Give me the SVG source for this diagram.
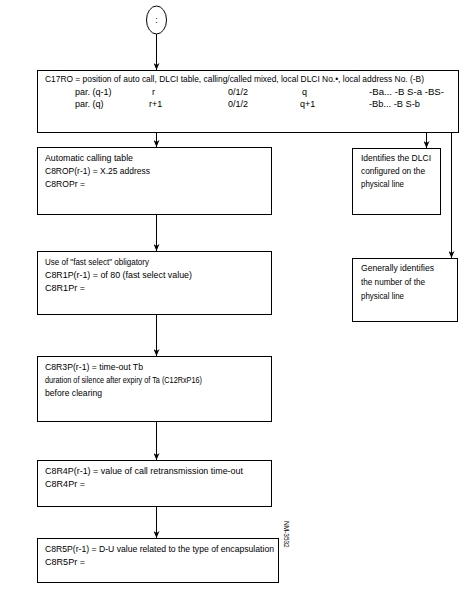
<svg xmlns="http://www.w3.org/2000/svg" width="468" height="616" viewBox="0 0 468 616">
<style>
.b{fill:#fff;stroke:#000;stroke-width:1}
.t{font-family:"Liberation Sans",Arial,sans-serif;font-size:9px;fill:#000}
.c{fill:none;stroke:#000;stroke-width:1}
.n{font-family:"Liberation Sans",Arial,sans-serif;font-size:6.5px;fill:#000}
</style>
<defs>
<marker id="ar" markerWidth="7" markerHeight="6" refX="7" refY="3" orient="auto" markerUnits="userSpaceOnUse" viewBox="0 0 7 6">
<path d="M0,0 L7,3 L0,6 L2,3 Z" fill="#000"/>
</marker>
</defs>
<rect width="468" height="616" fill="#fff"/>
<g id="connectors">
<path class="c" d="M156.5,34 V70" marker-end="url(#ar)"/>
<path class="c" d="M156.5,132 V147" marker-end="url(#ar)"/>
<path class="c" d="M156.5,215 V251" marker-end="url(#ar)"/>
<path class="c" d="M156.5,315 V356" marker-end="url(#ar)"/>
<path class="c" d="M156.5,422 V460" marker-end="url(#ar)"/>
<path class="c" d="M156.5,507 V538" marker-end="url(#ar)"/>
<path class="c" d="M421,101.5 H426.5 V148" marker-end="url(#ar)"/>
<path class="c" d="M446,89.5 H451.5 V258" marker-end="url(#ar)"/>
</g>
<g id="start">
<ellipse class="b" cx="156.5" cy="20" rx="10" ry="14"/>
<text class="t" x="156.5" y="23" text-anchor="middle">:</text>
</g>
<g id="box1">
<rect class="b" x="37.5" y="70.5" width="421" height="62"/>
<text class="t" x="45" y="82" textLength="379" lengthAdjust="spacingAndGlyphs">C17RO = position of auto call, DLCI table, calling/called mixed, local DLCI No.•, local address No. (-B)</text>
<text class="t" x="75" y="95">par. (q-1)</text>
<text class="t" x="152" y="95">r</text>
<text class="t" x="228" y="95">0/1/2</text>
<text class="t" x="302" y="95">q</text>
<text class="t" x="369" y="95" textLength="75" lengthAdjust="spacingAndGlyphs">-Ba... -B S-a -BS-</text>
<text class="t" x="75" y="107">par. (q)</text>
<text class="t" x="149" y="107">r+1</text>
<text class="t" x="228" y="107">0/1/2</text>
<text class="t" x="300" y="107">q+1</text>
<text class="t" x="369" y="107" textLength="51" lengthAdjust="spacingAndGlyphs">-Bb... -B S-b</text>
</g>
<g id="box2">
<rect class="b" x="37.5" y="147.5" width="234" height="67"/>
<text class="t" x="45" y="161" textLength="88" lengthAdjust="spacingAndGlyphs">Automatic calling table</text>
<text class="t" x="45" y="174" textLength="105" lengthAdjust="spacingAndGlyphs">C8ROP(r-1) = X.25 address</text>
<text class="t" x="45" y="187" textLength="40" lengthAdjust="spacingAndGlyphs">C8ROPr =</text>
</g>
<g id="box3">
<rect class="b" x="37.5" y="251.5" width="234" height="63"/>
<text class="t" x="45" y="265" textLength="104" lengthAdjust="spacingAndGlyphs">Use of "fast select" obligatory</text>
<text class="t" x="45" y="278" textLength="147" lengthAdjust="spacingAndGlyphs">C8R1P(r-1) = of 80 (fast select value)</text>
<text class="t" x="45" y="291" textLength="40" lengthAdjust="spacingAndGlyphs">C8R1Pr =</text>
</g>
<g id="box4">
<rect class="b" x="37.5" y="356.5" width="234" height="65"/>
<text class="t" x="45" y="370" textLength="98" lengthAdjust="spacingAndGlyphs">C8R3P(r-1) = time-out Tb</text>
<text class="t" x="45" y="383" textLength="157" lengthAdjust="spacingAndGlyphs">duration of silence after expiry of Ta (C12RxP16)</text>
<text class="t" x="45" y="396" textLength="57" lengthAdjust="spacingAndGlyphs">before clearing</text>
</g>
<g id="box5">
<rect class="b" x="37.5" y="460.5" width="234" height="46"/>
<text class="t" x="45" y="474" textLength="198" lengthAdjust="spacingAndGlyphs">C8R4P(r-1) = value of call retransmission time-out</text>
<text class="t" x="45" y="487" textLength="40" lengthAdjust="spacingAndGlyphs">C8R4Pr =</text>
</g>
<g id="box6">
<rect class="b" x="37.5" y="538.5" width="241" height="44"/>
<text class="t" x="45" y="552" textLength="229" lengthAdjust="spacingAndGlyphs">C8R5P(r-1) = D-U value related to the type of encapsulation</text>
<text class="t" x="45" y="565" textLength="40" lengthAdjust="spacingAndGlyphs">C8R5Pr =</text>
</g>
<g id="dlci">
<rect class="b" x="352.5" y="148.5" width="88" height="66"/>
<text class="t" x="361" y="161" textLength="70" lengthAdjust="spacingAndGlyphs">Identifies the DLCI</text>
<text class="t" x="361" y="174" textLength="64" lengthAdjust="spacingAndGlyphs">configured on the</text>
<text class="t" x="361" y="187" textLength="43" lengthAdjust="spacingAndGlyphs">physical line</text>
</g>
<g id="generally">
<rect class="b" x="352.5" y="258.5" width="105" height="63"/>
<text class="t" x="361" y="271" textLength="73" lengthAdjust="spacingAndGlyphs">Generally identifies</text>
<text class="t" x="361" y="285" textLength="64" lengthAdjust="spacingAndGlyphs">the number of the</text>
<text class="t" x="361" y="299" textLength="43" lengthAdjust="spacingAndGlyphs">physical line</text>
</g>
<text class="n" transform="translate(284,521) rotate(90)">NM-3532</text>
</svg>
